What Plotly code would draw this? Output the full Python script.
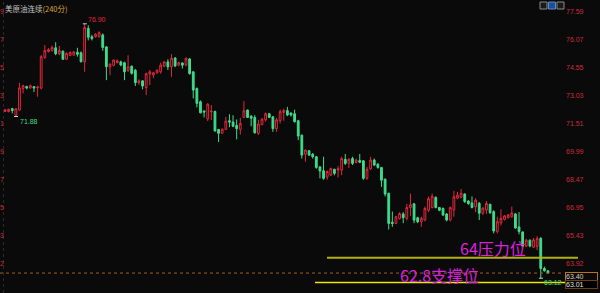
import plotly.graph_objects as go

# ---------------- data ----------------
opens = [72.15, 72.15, 72.30, 71.95, 72.23, 73.40, 73.50, 73.42, 73.50, 73.43,
         73.42, 75.08, 75.40, 75.45, 75.60, 75.28, 75.42, 74.98, 75.18, 75.20,
         75.36, 75.33, 74.85, 76.65, 76.20, 76.20, 76.20, 76.30, 75.65, 74.57,
         74.65, 74.80, 74.84, 74.79, 74.36, 74.60, 74.39, 73.71, 73.81, 73.45,
         74.18, 74.13, 74.25, 74.30, 74.61, 74.84, 74.57, 75.05, 74.66, 74.78,
         74.66, 75.00, 74.30, 73.40, 72.68, 72.18, 71.75, 72.13, 72.15, 71.18,
         70.97, 71.18, 71.65, 71.58, 71.40, 71.18, 71.83, 72.23, 71.90, 71.83,
         70.97, 71.45, 71.70, 72.03, 71.86, 71.22, 71.66, 72.10, 72.20, 72.07,
         72.03, 71.65, 70.87, 69.84, 70.03, 69.84, 69.70, 69.15, 68.94, 68.60,
         68.71, 69.02, 68.98, 68.98, 69.56, 69.34, 69.60, 69.38, 69.50, 69.48,
         68.53, 69.05, 69.52, 69.30, 69.12, 68.49, 67.72, 66.15, 66.09, 66.35,
         66.60, 66.36, 66.95, 67.15, 66.40, 66.18, 66.27, 66.80, 66.95, 67.50,
         66.95, 66.90, 66.60, 66.27, 66.81, 67.45, 67.50, 67.68, 67.30, 67.20,
         66.99, 67.18, 66.64, 66.81, 67.13, 66.73, 65.64, 66.12, 66.30, 66.40,
         66.45, 66.60, 65.90, 65.63, 64.86, 65.18, 64.80, 64.84, 65.28, 63.65,
         63.52]
highs = [72.28, 72.30, 72.35, 72.32, 73.70, 73.60, 73.55, 73.60, 73.52, 73.55,
         75.20, 75.75, 75.58, 75.72, 75.90, 75.70, 75.45, 75.35, 75.40, 75.42,
         75.60, 75.40, 76.90, 76.82, 76.30, 76.40, 76.50, 76.38, 75.70, 74.75,
         74.97, 74.97, 74.90, 74.85, 75.20, 74.65, 74.45, 73.90, 73.85, 74.25,
         74.40, 74.30, 74.42, 74.80, 74.88, 74.98, 75.26, 75.10, 74.85, 74.82,
         75.08, 75.05, 74.32, 73.45, 72.75, 72.20, 72.60, 72.50, 72.20, 71.20,
         71.22, 71.86, 72.00, 71.95, 71.72, 71.80, 72.71, 72.25, 71.95, 71.95,
         71.70, 71.80, 72.10, 72.05, 71.90, 71.80, 72.25, 72.30, 72.40, 72.10,
         72.25, 71.70, 70.90, 70.10, 70.05, 69.90, 69.75, 69.20, 69.70, 68.95,
         69.10, 69.05, 69.20, 69.70, 69.85, 69.62, 69.70, 69.60, 69.85, 69.52,
         69.15, 69.70, 69.60, 69.35, 69.15, 68.50, 67.75, 66.73, 66.50, 66.70,
         66.70, 67.15, 67.70, 67.20, 66.45, 66.45, 67.00, 67.55, 67.70, 67.55,
         66.98, 66.95, 66.65, 67.00, 67.85, 67.80, 67.95, 67.72, 67.35, 67.55,
         67.45, 67.25, 66.97, 67.30, 67.15, 66.80, 66.45, 66.85, 66.55, 66.60,
         67.00, 66.65, 66.70, 65.65, 65.25, 65.22, 65.30, 65.40, 65.35, 63.75,
         63.55]
lows = [72.12, 72.10, 72.05, 71.88, 72.20, 73.13, 73.35, 73.40, 73.20, 72.95,
        73.35, 75.00, 75.35, 75.40, 75.20, 75.20, 74.95, 74.95, 75.15, 75.18,
        75.12, 74.80, 74.30, 76.00, 76.00, 76.15, 76.15, 75.44, 73.85, 74.12,
        74.60, 74.75, 74.60, 73.85, 74.30, 74.15, 73.53, 73.60, 73.35, 73.04,
        73.58, 73.95, 74.20, 74.20, 74.55, 74.40, 74.03, 74.55, 74.60, 74.48,
        74.60, 74.15, 72.86, 72.37, 72.05, 71.83, 71.63, 71.69, 71.05, 70.50,
        70.95, 71.15, 71.30, 71.30, 70.64, 70.90, 71.80, 71.80, 71.35, 70.95,
        70.88, 71.40, 71.60, 71.80, 71.05, 71.05, 71.50, 71.65, 71.90, 71.88,
        71.55, 70.60, 69.60, 69.43, 69.75, 69.60, 69.05, 68.53, 68.45, 68.45,
        68.65, 68.70, 68.57, 68.70, 69.25, 69.10, 69.25, 69.35, 69.35, 68.45,
        68.45, 68.98, 69.20, 69.05, 68.07, 67.55, 65.76, 65.90, 66.05, 66.30,
        66.10, 66.25, 66.50, 66.10, 66.10, 65.90, 66.20, 66.70, 66.90, 66.90,
        66.75, 66.50, 66.20, 66.20, 66.45, 67.40, 67.45, 67.20, 67.10, 66.90,
        66.70, 66.27, 66.55, 66.60, 66.60, 65.55, 65.55, 65.98, 66.25, 66.35,
        66.40, 65.80, 65.50, 64.80, 64.80, 64.80, 64.75, 64.64, 63.12, 63.48,
        63.38]
closes = [72.25, 72.27, 72.20, 72.30, 73.43, 73.55, 73.42, 73.55, 73.42, 73.47,
          75.12, 75.45, 75.50, 75.62, 75.28, 75.45, 74.98, 75.30, 75.35, 75.38,
          75.25, 74.85, 76.70, 76.17, 76.10, 76.34, 76.42, 75.62, 74.58, 74.72,
          74.94, 74.90, 74.67, 74.30, 74.57, 74.22, 73.71, 73.81, 73.53, 74.20,
          74.30, 74.25, 74.39, 74.66, 74.84, 74.57, 75.03, 74.62, 74.80, 74.66,
          75.03, 74.20, 73.31, 72.59, 72.08, 72.12, 72.55, 72.17, 71.10, 70.97,
          71.20, 71.63, 71.58, 71.35, 71.22, 71.50, 72.19, 71.83, 71.78, 71.00,
          71.47, 71.74, 72.03, 71.83, 71.22, 71.70, 72.14, 72.20, 71.96, 71.96,
          71.60, 70.82, 69.79, 70.06, 69.79, 69.70, 69.12, 68.93, 68.53, 68.90,
          69.07, 68.80, 69.05, 69.61, 69.34, 69.56, 69.34, 69.52, 69.40, 68.53,
          69.02, 69.52, 69.25, 69.12, 68.43, 67.68, 66.09, 66.09, 66.45, 66.62,
          66.40, 66.95, 67.10, 66.27, 66.18, 66.36, 66.90, 67.43, 67.56, 66.95,
          66.80, 66.54, 66.27, 66.95, 67.53, 67.62, 67.72, 67.27, 67.16, 66.95,
          67.35, 66.64, 66.92, 67.17, 66.67, 65.68, 66.18, 66.36, 66.50, 66.55,
          66.65, 65.84, 65.65, 64.86, 65.18, 64.86, 65.20, 65.28, 63.65, 63.52,
          63.40]
bars = list(range(len(closes)))

axis_ticks = [77.59, 76.07, 74.55, 73.03, 71.51, 69.99, 68.47, 66.95, 65.43, 63.92]
resistance = 64.23     # "64压力位" line
support = 62.89        # "62.8支撑位" line
last_price = closes[-1]
box_low = 63.01

# ---------------- layout constants ----------------
W, H = 600, 293
BG = "#0a0a0a"
RED = "#e0283c"
GREEN = "#3fdc8c"
AXIS_RED = "#cc2a3c"
MAG = "#dd22dd"
PLOT_RIGHT = 560
X0_PX, STEP_PX = 5, 3.62
x_lo = -X0_PX / STEP_PX
x_hi = x_lo + PLOT_RIGHT / STEP_PX
Y_TOP, Y_BOT = 78.19, 62.32


def px(x):
    return x / W


def py(y):
    return 1 - y / H


fig = go.Figure()
fig.add_trace(go.Candlestick(
    x=bars, open=opens, high=highs, low=lows, close=closes,
    increasing=dict(line=dict(color=RED, width=1), fillcolor=BG),
    decreasing=dict(line=dict(color=GREEN, width=1), fillcolor=GREEN),
    hoverinfo="skip", showlegend=False,
))

shapes = []
# price lines
shapes.append(dict(type="line", xref="paper", yref="y", x0=0, x1=px(563),
                   y0=last_price, y1=last_price,
                   line=dict(color="#a0601c", width=1, dash="dot")))
shapes.append(dict(type="line", xref="paper", yref="y", x0=px(327), x1=px(578),
                   y0=resistance, y1=resistance,
                   line=dict(color="#b2b20a", width=2)))
shapes.append(dict(type="line", xref="paper", yref="y", x0=px(315), x1=px(597),
                   y0=support, y1=support,
                   line=dict(color="#e8e800", width=1.5)))
# faint left border
shapes.append(dict(type="line", xref="paper", yref="paper", x0=px(3.5), x1=px(3.5),
                   y0=0, y1=1, line=dict(color="#2a2a2a", width=1, dash="dot")))
# tool buttons top right
for i, (fill, border) in enumerate([("#1a1a1a", "#8a8a8a"), ("#1a4f90", "#5a8ad0"),
                                     ("#1a1a1a", "#8a8a8a")]):
    shapes.append(dict(type="rect", xref="paper", yref="paper",
                       x0=px(540 + i * 8.5), x1=px(547 + i * 8.5),
                       y0=py(9), y1=py(2), fillcolor=fill,
                       line=dict(color=border, width=1)))

# extreme markers
hi_i = max(bars, key=lambda i: highs[i])
lo_left = min(range(hi_i), key=lambda i: lows[i])
lo_i = min(bars, key=lambda i: lows[i])
for i, v in [(hi_i, highs[hi_i]), (lo_left, lows[lo_left]), (lo_i, lows[lo_i])]:
    shapes.append(dict(type="line", xref="x", yref="y", x0=i - 0.5, x1=i + 0.6,
                       y0=v, y1=v, line=dict(color="#d0d0d0", width=1)))

ann = []
small = dict(family="Liberation Sans, Arial, sans-serif", size=7)
# left axis: only the last digit of each label shows at the window edge
for t in axis_ticks:
    ann.append(dict(xref="paper", yref="y", x=0, y=t, text=f"{t:.2f}"[-1],
                    xanchor="left", yanchor="middle", showarrow=False, xshift=-1,
                    borderpad=0,
                    font=dict(small, color=AXIS_RED)))
# extreme labels
ann.append(dict(xref="x", yref="y", x=hi_i, y=highs[hi_i], text=f"{highs[hi_i]:.2f}",
                xanchor="left", yanchor="bottom", xshift=1, yshift=-1, showarrow=False,
                font=dict(small, color=RED)))
ann.append(dict(xref="x", yref="y", x=lo_left, y=lows[lo_left], text=f"{lows[lo_left]:.2f}",
                xanchor="left", yanchor="top", xshift=2, yshift=1, showarrow=False,
                font=dict(small, color=GREEN)))
ann.append(dict(xref="x", yref="y", x=lo_i, y=lows[lo_i], text=f"{lows[lo_i]:.2f}",
                xanchor="left", yanchor="top", xshift=1, yshift=1, showarrow=False,
                font=dict(small, color=GREEN)))
# price boxes
ann.append(dict(xref="paper", yref="paper", x=px(565), y=py(276.5), text=f"{last_price:.2f}",
                xanchor="left", yanchor="middle", showarrow=False,
                bgcolor=BG, bordercolor="#b8741c", borderwidth=1, borderpad=0,
                width=31, height=7, align="left",
                font=dict(small, color="#d8d0c0")))
ann.append(dict(xref="paper", yref="paper", x=px(565), y=py(284), text=f"{box_low:.2f}",
                xanchor="left", yanchor="middle", showarrow=False,
                bgcolor="#000000", bordercolor="#6a4010", borderwidth=1, borderpad=0,
                width=31, height=7, align="left",
                font=dict(small, color="#e0e0e0")))
# title
ann.append(dict(xref="paper", yref="paper", x=px(3), y=py(1), xanchor="left", yanchor="top",
                text="<span style='color:#c4c4c4'>美原油连续</span>"
                     "<span style='color:#d8a830'>(240分)</span>",
                showarrow=False,
                font=dict(family="Noto Sans CJK SC", size=7.5)))
# support / resistance labels
ann.append(dict(xref="paper", yref="paper", x=px(458), y=py(248), text="64压力位",
                xanchor="left", yanchor="middle", showarrow=False,
                font=dict(family="Noto Sans CJK SC", size=16, color=MAG)))
ann.append(dict(xref="paper", yref="paper", x=px(398), y=py(274.5), text="62.8支撑位",
                xanchor="left", yanchor="middle", showarrow=False,
                font=dict(family="Noto Sans CJK SC", size=16, color=MAG)))

fig.update_layout(
    width=W, height=H, margin=dict(l=0, r=0, t=0, b=0),
    paper_bgcolor=BG, plot_bgcolor=BG,
    showlegend=False, shapes=shapes, annotations=ann,
    xaxis=dict(domain=[0, PLOT_RIGHT / W], range=[x_lo, x_hi], visible=False,
               rangeslider=dict(visible=False), fixedrange=True),
    yaxis=dict(range=[Y_BOT, Y_TOP], side="right", tickvals=axis_ticks,
               ticktext=[f"{t:.2f}" for t in axis_ticks], showgrid=False,
               zeroline=False, showline=False, ticks="", ticklabelstandoff=5,
               tickfont=dict(small, color=AXIS_RED), fixedrange=True),
)

fig.write_html("out.html", config=dict(displayModeBar=False))
